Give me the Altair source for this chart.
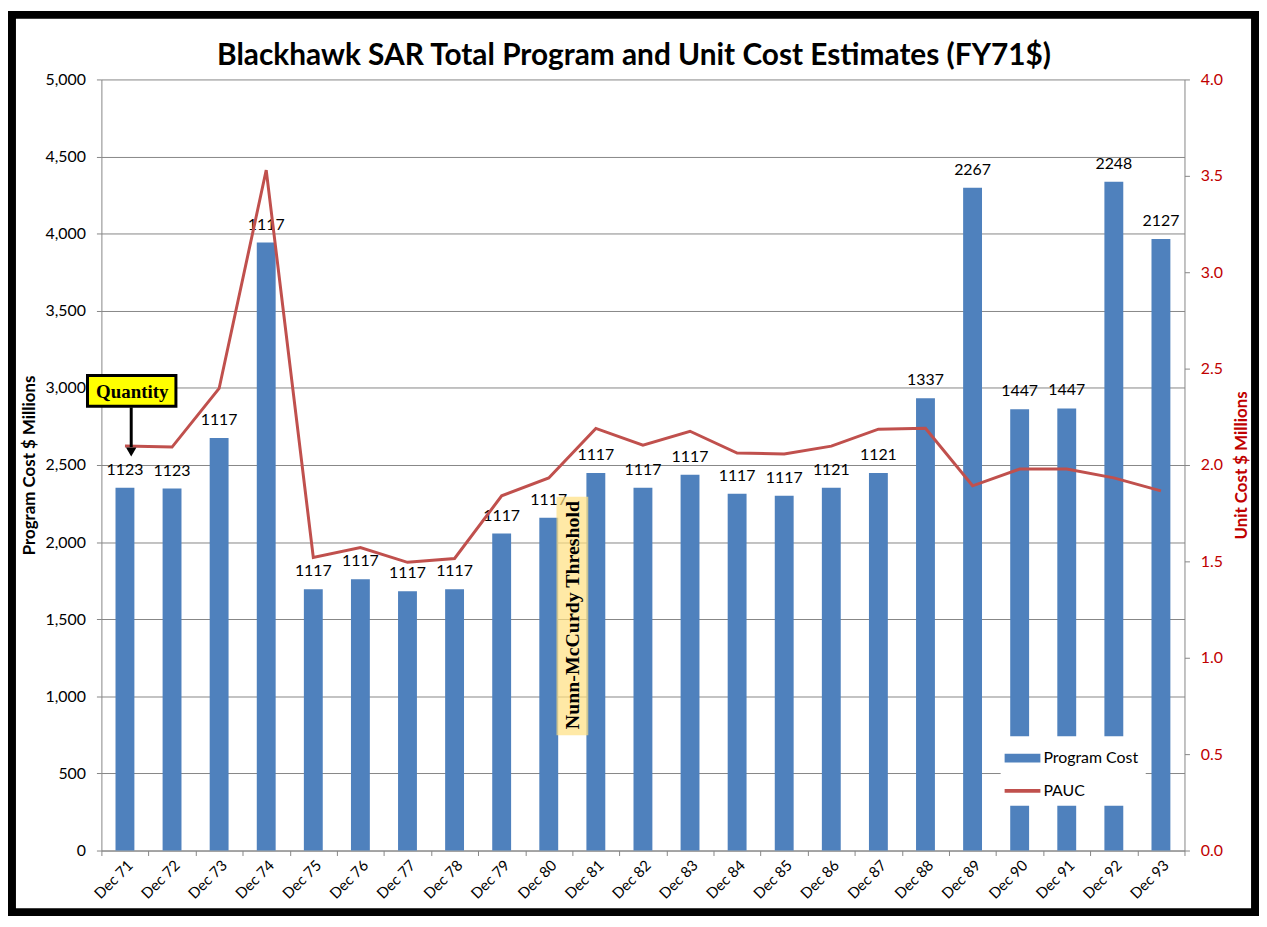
import altair as alt
import pandas as pd

categories = ["Dec 71", "Dec 72", "Dec 73", "Dec 74", "Dec 75", "Dec 76", "Dec 77", "Dec 78",
              "Dec 79", "Dec 80", "Dec 81", "Dec 82", "Dec 83", "Dec 84", "Dec 85", "Dec 86",
              "Dec 87", "Dec 88", "Dec 89", "Dec 90", "Dec 91", "Dec 92", "Dec 93"]
program_cost = [2352, 2347, 2675, 3943, 1695, 1759, 1682, 1695, 2055, 2158, 2448, 2352,
                2436, 2313, 2300, 2352, 2448, 2932, 4298, 2861, 2867, 4336, 3965]
pauc = [2.098, 2.093, 2.397, 3.53, 1.52, 1.572, 1.495, 1.515, 1.84, 1.933, 2.19, 2.103,
        2.175, 2.062, 2.057, 2.098, 2.186, 2.19, 1.892, 1.979, 1.979, 1.933, 1.866]
quantity = [1123, 1123, 1117, 1117, 1117, 1117, 1117, 1117, 1117, 1117, 1117, 1117,
            1117, 1117, 1117, 1121, 1121, 1337, 2267, 1447, 1447, 2248, 2127]
series_names = ["Program Cost", "PAUC"]
series_colors = ["#4F81BD", "#C0504D"]
title_text = "Blackhawk SAR Total Program and Unit Cost Estimates (FY71$)"

df = pd.DataFrame({"cat": categories, "cost": program_cost, "pauc": pauc, "qty": quantity})
one = pd.DataFrame({"a": [0]})
legend_df = pd.DataFrame({"series": series_names})

FONT = "Lato"
SERIF = "Liberation Serif"
GRAY = "#868686"
W, H = 1090, 776

x_enc = alt.X("cat:N", sort=categories,
              scale=alt.Scale(domain=categories, paddingInner=0, paddingOuter=0),
              axis=alt.Axis(title=None, labelAngle=-45, labelAlign="right", labelBaseline="top",
                            labelFontSize=15, labelFont=FONT, labelColor="black", labelPadding=2,
                            tickBand="extent", tickSize=5, tickColor=GRAY, domainColor=GRAY,
                            grid=False))
x_plain = alt.X("cat:N", sort=categories)

left_axis = alt.Axis(orient="left", values=list(range(0, 5001, 500)),
                     labelExpr="format(datum.value, ',')", grid=True,
                     gridColor=GRAY, tickColor=GRAY, domainColor=GRAY, tickSize=5,
                     labelFontSize=16, labelFont=FONT, labelColor="black", labelPadding=11,
                     title="Program Cost $ Millions", titleFontSize=17, titleFont=FONT,
                     titleFontWeight="bold", titleColor="black", titleAngle=-90,
                     titleX=-72, titleY=388, titleBaseline="middle", titleAlign="center")
right_axis = alt.Axis(orient="right", values=[0, 0.5, 1.0, 1.5, 2.0, 2.5, 3.0, 3.5, 4.0],
                      labelExpr="format(datum.value, '.1f')", grid=False, tickColor=GRAY,
                      domainColor=GRAY, tickSize=5,
                      labelFontSize=16, labelFont=FONT, labelColor="#C00000", labelPadding=11,
                      title="Unit Cost $ Millions", titleFontSize=17, titleFont=FONT,
                      titleFontWeight="bold", titleColor="#C00000", titleAngle=-90,
                      titleX=57, titleY=388, titleBaseline="middle", titleAlign="center")

y_cost = alt.Y("cost:Q", scale=alt.Scale(domain=[0, 5000], nice=False), axis=left_axis)

frame = alt.Chart(one).mark_rect(fillOpacity=0, stroke="black", strokeWidth=8).encode(
    x=alt.value(-90), x2=alt.value(1161), y=alt.value(-65), y2=alt.value(838))

title = alt.Chart(one).mark_text(text=title_text, font=FONT, fontSize=30, fontWeight="bold",
                                 color="black", align="center", baseline="alphabetic").encode(
    x=alt.value(536), y=alt.value(-15))

bars = alt.Chart(df).mark_bar(size=19, color="#4F81BD").encode(x=x_enc, y=y_cost)
labels = alt.Chart(df).mark_text(baseline="alphabetic", dy=-13, fontSize=16, font=FONT,
                                 color="black").encode(
    x=x_plain, y=alt.Y("cost:Q"), text=alt.Text("qty:Q", format="d"))
cost_layer = alt.layer(bars, labels)

line = alt.Chart(df).mark_line(color="#C0504D", strokeWidth=3).encode(
    x=x_plain,
    y=alt.Y("pauc:Q", scale=alt.Scale(domain=[0, 4], nice=False), axis=right_axis))

legend_layer = alt.Chart(legend_df).mark_point(filled=True, opacity=1).encode(
    x=alt.value(-3000), y=alt.value(300),
    color=alt.Color("series:N", scale=alt.Scale(domain=series_names, range=series_colors),
                    legend=alt.Legend(orient="none", legendX=905, legendY=661, title=None,
                                      fillColor="white", padding=7, rowPadding=10,
                                      labelFontSize=16, labelFont=FONT, labelColor="black",
                                      labelOffset=6, symbolSize=900, symbolOpacity=1,
                                      symbolStrokeWidth=0)),
    shape=alt.Shape("series:N", scale=alt.Scale(
        domain=series_names,
        range=["M-1.2,-0.3L1.2,-0.3L1.2,0.3L-1.2,0.3Z", "M-1.2,-0.13L1.2,-0.13L1.2,0.13L-1.2,0.13Z"]),
        legend=alt.Legend(orient="none", legendX=905, legendY=661, title=None)),
)

nunn_box = alt.Chart(one).mark_rect(color="#FFDF80", opacity=0.7).encode(
    x=alt.value(458), x2=alt.value(490), y=alt.value(420), y2=alt.value(660))
nunn_text = alt.Chart(one).mark_text(text="Nunn-McCurdy Threshold", angle=270, font=SERIF,
                                     fontWeight="bold", fontSize=20, color="black",
                                     baseline="middle", align="center").encode(
    x=alt.value(475), y=alt.value(539))

qty_box = alt.Chart(one).mark_rect(color="#FFFF00", stroke="black", strokeWidth=3).encode(
    x=alt.value(-14), x2=alt.value(75), y=alt.value(298), y2=alt.value(329))
qty_arrow = alt.Chart(one).mark_rule(color="black", strokeWidth=3).encode(
    x=alt.value(30), y=alt.value(330), y2=alt.value(370))
qty_head = alt.Chart(one).mark_point(shape="triangle-down", filled=True, color="black",
                                     size=110, opacity=1).encode(
    x=alt.value(30), y=alt.value(375))
qty_text = alt.Chart(one).mark_text(text="Quantity", font=SERIF, fontWeight="bold", fontSize=19,
                                    color="black", baseline="middle", align="center").encode(
    x=alt.value(31), y=alt.value(315))

chart = alt.layer(
    cost_layer, line, legend_layer, nunn_box, nunn_text, qty_box, qty_arrow, qty_head, qty_text,
    title, frame
).resolve_scale(y="independent").properties(
    width=W, height=H,
    autosize=alt.AutoSizeParams(type="none"),
    padding={"left": 94, "top": 69, "right": 75, "bottom": 66},
    background="white",
).configure_view(strokeWidth=0)

chart.save("out.html", embed_options={"renderer": "svg", "actions": False})
